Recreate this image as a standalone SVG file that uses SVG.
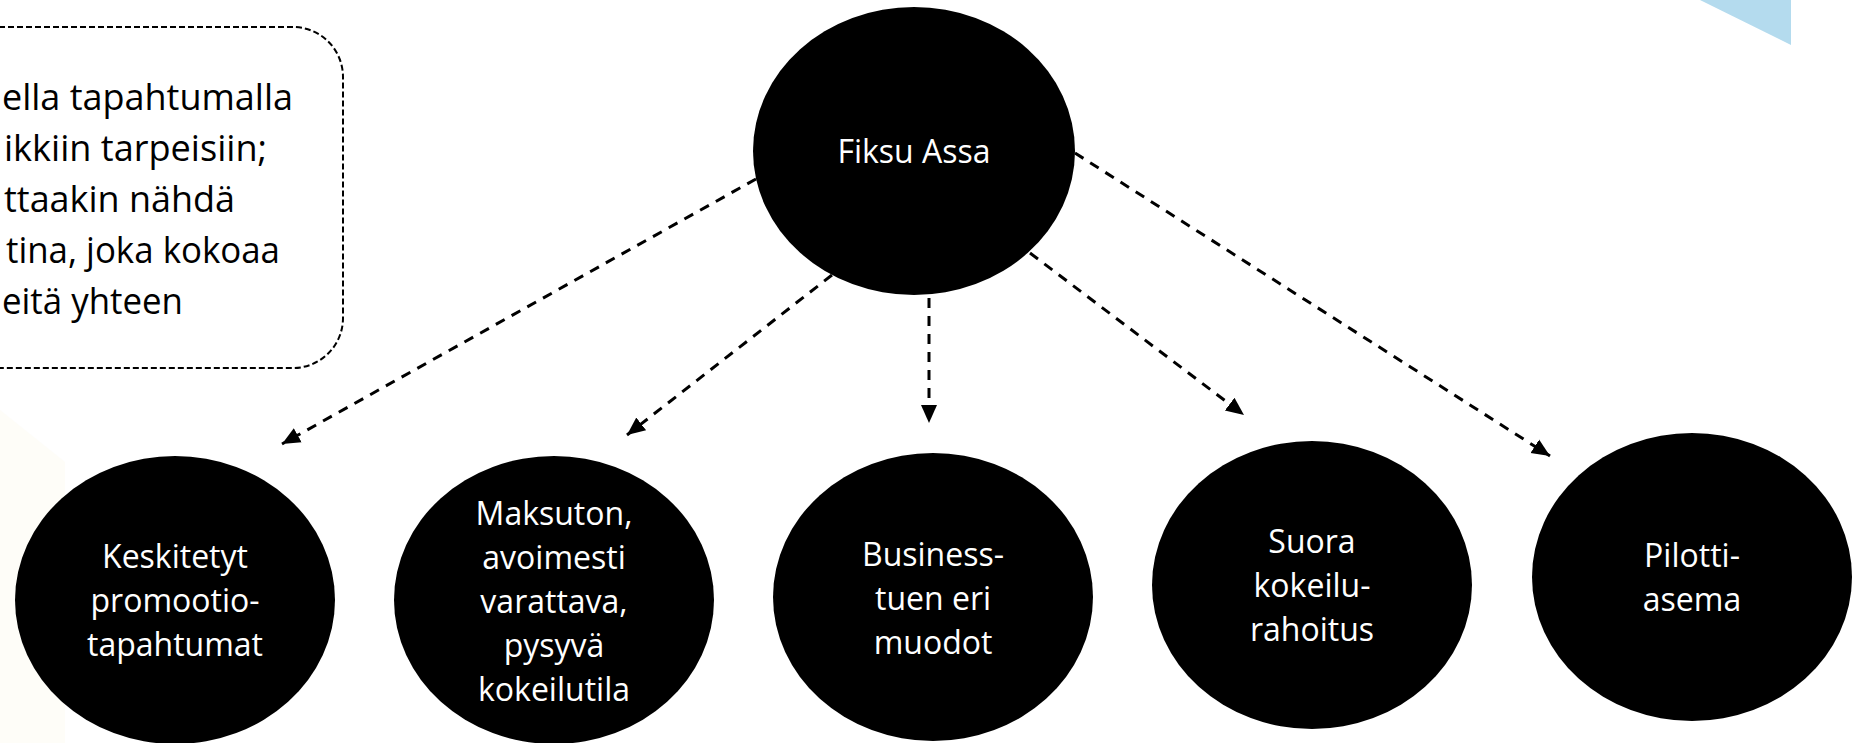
<svg xmlns="http://www.w3.org/2000/svg" width="1858" height="743" viewBox="0 0 1858 743">
<style>
.node{fill:#000}
.nt{font-family:"Open Sans","Noto Sans",sans-serif;font-size:32px;fill:#fff;text-anchor:middle}
.bt{font-family:"Open Sans","Noto Sans",sans-serif;font-size:36px;fill:#000;text-anchor:start}
.conn{stroke:#000;stroke-width:3;stroke-dasharray:10 8;fill:none}
</style>
<defs>
<marker id="ah" markerUnits="userSpaceOnUse" markerWidth="20" markerHeight="20" viewBox="0 0 20 20" refX="18" refY="10" orient="auto">
<path d="M0,2 L18,10 L0,18 Z" fill="#000"/>
</marker>
</defs>
<rect width="1858" height="743" fill="#fff"/>
<polygon points="0,410 65,462 65,743 0,743" fill="#fefdf8"/>
<polygon points="1700,0 1791,45 1791,0" fill="#b4dbee"/>
<g id="note">
<rect x="-60" y="27" width="403" height="341" rx="50" ry="50" fill="none" stroke="#000" stroke-width="2" stroke-dasharray="6 3"/>
<text class="bt" x="2" y="110" textLength="291" lengthAdjust="spacingAndGlyphs">ella tapahtumalla</text>
<text class="bt" x="4" y="161" textLength="263" lengthAdjust="spacingAndGlyphs">ikkiin tarpeisiin;</text>
<text class="bt" x="4" y="212" textLength="231" lengthAdjust="spacingAndGlyphs">ttaakin nähdä</text>
<text class="bt" x="6" y="263" textLength="274" lengthAdjust="spacingAndGlyphs">tina, joka kokoaa</text>
<text class="bt" x="2" y="314" textLength="181" lengthAdjust="spacingAndGlyphs">eitä yhteen</text>
</g>
<g id="connectors">
<line class="conn" x1="756" y1="179" x2="282" y2="444" marker-end="url(#ah)"/>
<line class="conn" x1="832" y1="275" x2="627" y2="435" marker-end="url(#ah)"/>
<line class="conn" x1="929" y1="298" x2="929" y2="423" marker-end="url(#ah)"/>
<line class="conn" x1="1030" y1="253" x2="1244" y2="415" marker-end="url(#ah)"/>
<line class="conn" x1="1075" y1="153" x2="1550" y2="456" marker-end="url(#ah)"/>
</g>
<g id="fiksu">
<ellipse class="node" cx="914" cy="151" rx="161" ry="144"/>
<text class="nt" x="914" y="163">Fiksu Assa</text>
</g>
<g id="keskitetyt">
<ellipse class="node" cx="175" cy="600" rx="160" ry="144"/>
<text class="nt" x="175" y="568">Keskitetyt</text>
<text class="nt" x="175" y="612">promootio-</text>
<text class="nt" x="175" y="656">tapahtumat</text>
</g>
<g id="maksuton">
<ellipse class="node" cx="554" cy="600" rx="160" ry="144"/>
<text class="nt" x="554" y="525">Maksuton,</text>
<text class="nt" x="554" y="569">avoimesti</text>
<text class="nt" x="554" y="613">varattava,</text>
<text class="nt" x="554" y="657">pysyvä</text>
<text class="nt" x="554" y="701">kokeilutila</text>
</g>
<g id="business">
<ellipse class="node" cx="933" cy="597" rx="160" ry="144"/>
<text class="nt" x="933" y="566">Business-</text>
<text class="nt" x="933" y="610">tuen eri</text>
<text class="nt" x="933" y="654">muodot</text>
</g>
<g id="suora">
<ellipse class="node" cx="1312" cy="585" rx="160" ry="144"/>
<text class="nt" x="1312" y="553">Suora</text>
<text class="nt" x="1312" y="597">kokeilu-</text>
<text class="nt" x="1312" y="641">rahoitus</text>
</g>
<g id="pilotti">
<ellipse class="node" cx="1692" cy="577" rx="160" ry="144"/>
<text class="nt" x="1692" y="567">Pilotti-</text>
<text class="nt" x="1692" y="611">asema</text>
</g>
</svg>
